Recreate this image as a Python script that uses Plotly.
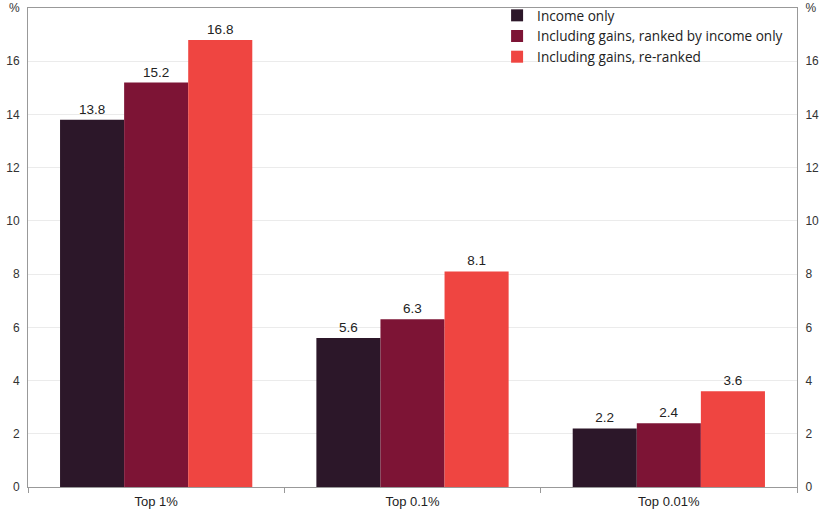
import plotly.graph_objects as go

categories = ["Top 1%", "Top 0.1%", "Top 0.01%"]
series_names = ["Income only", "Including gains, ranked by income only", "Including gains, re-ranked"]
income_only = [13.8, 5.6, 2.2]
gains_ranked_income = [15.2, 6.3, 2.4]
gains_reranked = [16.8, 8.1, 3.6]
colors = ["#2C1729", "#7D1435", "#EF4541"]
tick_vals = [0, 2, 4, 6, 8, 10, 12, 14, 16, 18]
tick_text = ["0", "2", "4", "6", "8", "10", "12", "14", "16", "%"]

fig = go.Figure()
for name, vals, col in zip(series_names, [income_only, gains_ranked_income, gains_reranked], colors):
    fig.add_trace(go.Bar(
        x=categories, y=vals, name=name, marker=dict(color=col, line=dict(width=0)),
        text=[f"{v:.1f}" for v in vals], textposition="outside",
        textfont=dict(size=13.5, color="#222222", family="Liberation Sans, Arial"),
        cliponaxis=False,
    ))
# invisible trace to anchor the right-hand axis
fig.add_trace(go.Scatter(x=categories, y=income_only, yaxis="y2", mode="none",
                         showlegend=False, hoverinfo="skip"))

axis_font = dict(size=12, color="#333333", family="Liberation Sans, Arial")
fig.update_layout(
    width=821, height=512,
    margin=dict(l=28, r=24, t=8, b=25, autoexpand=False),
    paper_bgcolor="white", plot_bgcolor="white",
    barmode="group", bargap=0.25, bargroupgap=0,
    font=dict(family="Liberation Sans, Arial", color="#222222"),
    xaxis=dict(showline=True, linecolor="#999999", linewidth=1, mirror=True,
               ticks="outside", tickson="boundaries", ticklen=5, tickcolor="#999999",
               automargin=False, ticklabelstandoff=2,
               tickfont=dict(size=13, color="#222222", family="Liberation Sans, Arial")),
    yaxis=dict(range=[0, 18], tickvals=tick_vals, ticktext=tick_text,
               showgrid=True, gridcolor="#EBEBEB", zeroline=False, automargin=False,
               showline=True, linecolor="#999999", linewidth=1,
               tickfont=axis_font, ticks="", ticklabelstandoff=5),
    yaxis2=dict(range=[0, 18], tickvals=tick_vals, ticktext=tick_text,
                overlaying="y", side="right", showgrid=False, zeroline=False, automargin=False,
                showline=True, linecolor="#999999", linewidth=1,
                tickfont=axis_font, ticks="", ticklabelstandoff=5),
    legend=dict(x=0.61, y=1.0, xanchor="left", yanchor="top", yref="container",
                bgcolor="rgba(255,255,255,0)", borderwidth=0,
                font=dict(size=13.6, color="#222222", family="Open Sans, Liberation Sans"),
                tracegroupgap=0, itemwidth=30),
)
fig.write_html("out.html")
